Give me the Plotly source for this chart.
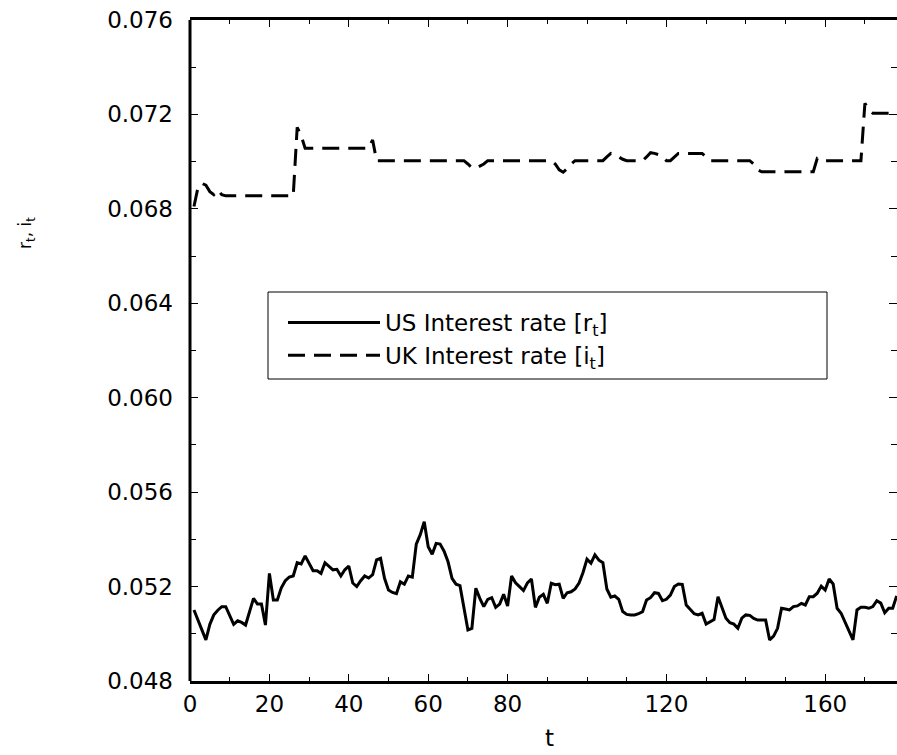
import plotly.graph_objects as go

# ---- data ----
t_us = list(range(1, 179))
us_rate = [
    0.05101, 0.05060, 0.05015, 0.04974, 0.05040, 0.05080, 0.05100, 0.05115, 0.05115, 0.05080,
    0.05040, 0.05055, 0.05048, 0.05037, 0.05095, 0.05150, 0.05126, 0.05126, 0.05037, 0.05256,
    0.05143, 0.05143, 0.05195, 0.05225, 0.05240, 0.05245, 0.05301, 0.05296, 0.05330, 0.05295,
    0.05267, 0.05267, 0.05256, 0.05301, 0.05284, 0.05271, 0.05273, 0.05245, 0.05271, 0.05287,
    0.05215, 0.05200, 0.05225, 0.05245, 0.05236, 0.05250, 0.05313, 0.05320, 0.05235, 0.05185,
    0.05175, 0.05170, 0.05220, 0.05210, 0.05245, 0.05240, 0.05380, 0.05420, 0.05475, 0.05369,
    0.05337, 0.05383, 0.05380, 0.05350, 0.05305, 0.05235, 0.05210, 0.05204, 0.05110, 0.05016,
    0.05023, 0.05193, 0.05150, 0.05115, 0.05146, 0.05153, 0.05112, 0.05126, 0.05167, 0.05118,
    0.05245, 0.05216, 0.05200, 0.05183, 0.05216, 0.05232, 0.05112, 0.05155, 0.05167, 0.05129,
    0.05214, 0.05208, 0.05210, 0.05150, 0.05174, 0.05178, 0.05190, 0.05215, 0.05260, 0.05316,
    0.05299, 0.05334, 0.05312, 0.05301, 0.05190, 0.05155, 0.05160, 0.05146, 0.05094, 0.05082,
    0.05080, 0.05080, 0.05085, 0.05094, 0.05143, 0.05153, 0.05174, 0.05171, 0.05140, 0.05146,
    0.05164, 0.05200, 0.05211, 0.05209, 0.05122, 0.05105, 0.05085, 0.05080, 0.05087, 0.05041,
    0.05050, 0.05060, 0.05157, 0.05108, 0.05066, 0.05047, 0.05041, 0.05023, 0.05066, 0.05080,
    0.05078, 0.05065, 0.05058, 0.05058, 0.05058, 0.04974, 0.04990, 0.05023, 0.05108, 0.05105,
    0.05101, 0.05115, 0.05118, 0.05129, 0.05122, 0.05157, 0.05157, 0.05172, 0.05202, 0.05185,
    0.05232, 0.05211, 0.05108, 0.05087, 0.05050, 0.05010, 0.04974, 0.05101, 0.05112, 0.05112,
    0.05108, 0.05115, 0.05140, 0.05130, 0.05089, 0.05108, 0.05108, 0.05160,
]

t_uk = list(range(1, 179))
uk_rate = [
    0.06810, 0.06890, 0.06908, 0.06900, 0.06873, 0.06860, 0.06880, 0.06860, 0.06855, 0.06855,
    0.06855, 0.06855, 0.06855, 0.06855, 0.06855, 0.06855, 0.06855, 0.06855, 0.06855, 0.06855,
    0.06855, 0.06855, 0.06855, 0.06855, 0.06855, 0.06855, 0.07145, 0.07110, 0.07057, 0.07057,
    0.07057, 0.07057, 0.07057, 0.07057, 0.07057, 0.07057, 0.07057, 0.07057, 0.07057, 0.07057,
    0.07057, 0.07057, 0.07057, 0.07057, 0.07057, 0.07092, 0.07004, 0.07004, 0.07004, 0.07004,
    0.07004, 0.07004, 0.07004, 0.07004, 0.07004, 0.07004, 0.07004, 0.07004, 0.07004, 0.07004,
    0.07004, 0.07004, 0.07004, 0.07004, 0.07004, 0.07004, 0.07004, 0.07004, 0.07004, 0.06990,
    0.06975, 0.06972, 0.06980, 0.06990, 0.07004, 0.07004, 0.07004, 0.07004, 0.07004, 0.07004,
    0.07004, 0.07004, 0.07004, 0.07004, 0.07004, 0.07004, 0.07004, 0.07004, 0.07004, 0.07004,
    0.07004, 0.06990, 0.06965, 0.06955, 0.06970, 0.06990, 0.07004, 0.07004, 0.07004, 0.07004,
    0.07004, 0.07004, 0.07004, 0.07004, 0.07020, 0.07035, 0.07030, 0.07020, 0.07010, 0.07004,
    0.07004, 0.07004, 0.07004, 0.07004, 0.07020, 0.07038, 0.07035, 0.07030, 0.07020, 0.07004,
    0.07004, 0.07020, 0.07035, 0.07035, 0.07035, 0.07035, 0.07035, 0.07035, 0.07035, 0.07020,
    0.07004, 0.07004, 0.07004, 0.07004, 0.07004, 0.07004, 0.07004, 0.07004, 0.07004, 0.07004,
    0.07004, 0.06990, 0.06965, 0.06957, 0.06957, 0.06957, 0.06957, 0.06957, 0.06957, 0.06957,
    0.06957, 0.06957, 0.06957, 0.06957, 0.06957, 0.06957, 0.06957, 0.07014, 0.07010, 0.07004,
    0.07004, 0.07004, 0.07004, 0.07004, 0.07004, 0.07004, 0.07004, 0.07004, 0.07004, 0.07247,
    0.07220, 0.07205, 0.07205, 0.07205, 0.07205, 0.07205, 0.07205, 0.07205,
]

x_tick_vals = [0, 20, 40, 60, 80, 120, 160]
x_tick_text = ["0", "20", "40", "60", "80", "120", "160"]
y_tick_vals = [0.048, 0.052, 0.056, 0.060, 0.064, 0.068, 0.072, 0.076]
y_tick_text = ["0.048", "0.052", "0.056", "0.060", "0.064", "0.068", "0.072", "0.076"]

series_names = ["US Interest rate [r<sub>t</sub>]", "UK Interest rate [i<sub>t</sub>]"]

FONT = "DejaVu Sans"
FS = 23
W, H = 897, 755
ML, MT, MB, MR = 190, 20, 74, 0
PW, PH = W - ML - MR, H - MT - MB

def px_x(p):
    return (p - ML) / PW

def px_y(p):
    return (H - MB - p) / PH

fig = go.Figure()
fig.add_trace(go.Scatter(x=t_us, y=us_rate, mode="lines", name=series_names[0],
                         line=dict(color="black", width=3)))
fig.add_trace(go.Scatter(x=t_uk, y=uk_rate, mode="lines", name=series_names[1],
                         line=dict(color="black", width=3, dash="17px,9px")))

fig.update_layout(
    width=W, height=H, autosize=False,
    margin=dict(l=ML, r=MR, t=MT, b=MB, pad=0),
    paper_bgcolor="white", plot_bgcolor="white",
    font=dict(family=FONT, color="black", size=FS),
    showlegend=True,
    legend=dict(
        x=px_x(283), y=px_y(301), xanchor="left", yanchor="top",
        bgcolor="rgba(0,0,0,0)", borderwidth=0,
        font=dict(family=FONT, size=FS, color="black"),
        itemwidth=92,
        tracegroupgap=0,
    ),
    xaxis=dict(
        range=[0, PW / 3.97],
        showline=True, linecolor="black", linewidth=3,
        mirror="ticks",
        ticks="inside", ticklen=7, tickwidth=1, tickcolor="black",
        tickmode="array", tickvals=x_tick_vals, ticktext=x_tick_text,
        minor=dict(ticks="inside", dtick=10, tick0=0, ticklen=4, tickwidth=1, tickcolor="black"),
        showgrid=False, zeroline=False,
        tickfont=dict(family=FONT, size=FS, color="black"),
        ticklabelstandoff=0,
    ),
    yaxis=dict(
        range=[0.048, 0.076],
        showline=False,
        mirror="ticks",
        ticks="inside", ticklen=8, tickwidth=1, tickcolor="black",
        tickmode="array", tickvals=y_tick_vals, ticktext=y_tick_text,
        minor=dict(ticks="inside", dtick=0.002, tick0=0.048, ticklen=6, tickwidth=1, tickcolor="black"),
        showgrid=False, zeroline=False,
        tickfont=dict(family=FONT, size=FS, color="black"),
        ticklabelstandoff=16,
    ),
    shapes=[
        dict(type="line", xref="paper", yref="paper", x0=0, x1=0, y0=0, y1=1,
             line=dict(color="black", width=3)),
        dict(type="rect", xref="paper", yref="paper",
             x0=px_x(268), x1=px_x(827), y0=px_y(379), y1=px_y(292),
             line=dict(color="black", width=1), fillcolor="rgba(0,0,0,0)"),
    ],
    annotations=[
        dict(text="r<sub>t</sub>, i<sub>t</sub>", xref="paper", yref="paper",
             x=px_x(26), y=px_y(233), textangle=-90, showarrow=False,
             font=dict(family=FONT, size=17, color="black"), xanchor="center", yanchor="middle"),
        dict(text="t", xref="paper", yref="paper",
             x=px_x(549), y=px_y(738), showarrow=False,
             font=dict(family=FONT, size=FS, color="black"), xanchor="center", yanchor="middle"),
    ],
)

fig.write_html(
    "out.html",
    config={"responsive": False, "displayModeBar": False},
    post_script="document.body.style.margin='0';document.body.style.overflow='hidden';",
)
